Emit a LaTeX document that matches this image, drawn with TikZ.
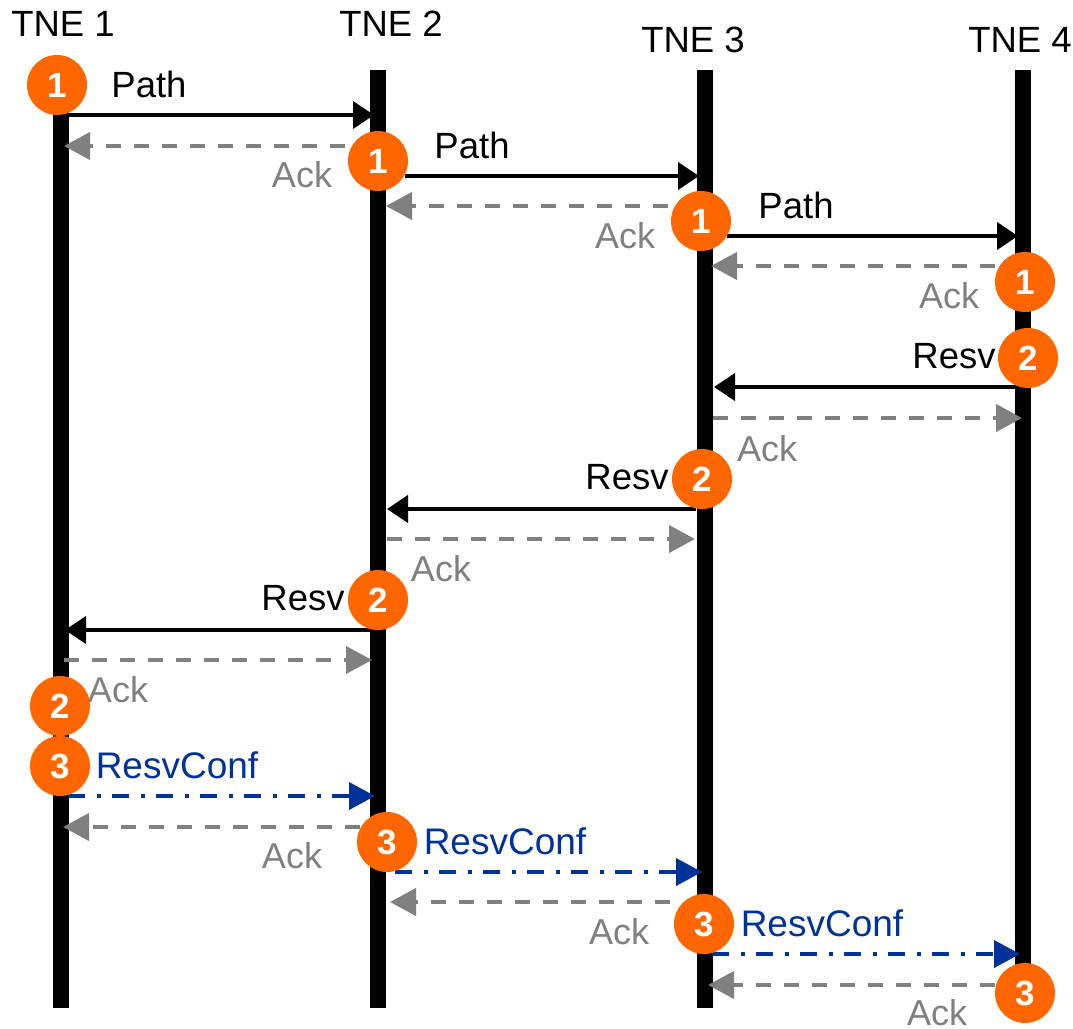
\documentclass[tikz,border=0pt]{standalone}
\usepackage{fontspec}
\setmainfont{Liberation Sans}
\usetikzlibrary{arrows.meta}
\definecolor{stepor}{HTML}{FF6600}
\definecolor{ackgrey}{HTML}{808080}
\definecolor{confblue}{HTML}{003399}
\tikzset{
  lifeline/.style={line width=16pt,black},
  tnelabel/.style={font=\fontsize{36.5}{36.5}\selectfont,text=black,inner sep=0pt},
  msgpath/.style={line width=4pt,black,-{Triangle[length=21pt,width=27pt]}},
  msgack/.style={line width=4pt,ackgrey,dash pattern=on 15pt off 13pt,-{Triangle[length=26pt,width=27pt]}},
  msgconf/.style={line width=4pt,confblue,dash pattern=on 17pt off 12pt on 4pt off 11pt,-{Triangle[length=26pt,width=27pt]}},
  lblblack/.style={font=\fontsize{36.5}{36.5}\selectfont,text=black,inner sep=0pt},
  lblack/.style={font=\fontsize{36}{36}\selectfont,text=ackgrey,inner sep=0pt},
  lblconf/.style={font=\fontsize{37}{37}\selectfont,text=confblue,inner sep=0pt},
  stepdot/.style={circle,fill=stepor,minimum size=60pt,inner sep=0pt,text=white,font=\fontsize{35}{35}\selectfont\bfseries},
}
\newcommand{\msgline}[5]{%
  \coordinate (#2s) at (#3,#5);
  \coordinate (#2e) at (#4,#5);
  \draw[#1] (#2s) -- (#2e);}
\begin{document}
\begin{tikzpicture}[x=1pt,y=-1pt]
\useasboundingbox (0,0) rectangle (1073,1028);
\fill[white] (0,0) rectangle (1073,1028);
% lifelines
\foreach \n/\x in {1/61,2/378,3/705,4/1023}{
  \coordinate (top\n) at (\x,70);
  \coordinate (bot\n) at (\x,1008);
  \draw[lifeline] (top\n) -- (bot\n);
}
% headers
\node[tnelabel] (tne1) at (63,24) {TNE 1};
\node[tnelabel] (tne2) at (391,24) {TNE 2};
\node[tnelabel] (tne3) at (693,40) {TNE 3};
\node[tnelabel] (tne4) at (1020,40) {TNE 4};
% messages
\msgline{msgpath}{pa}{69}{374}{115}
\msgline{msgack}{aa}{345}{64}{146}
\msgline{msgpath}{pb}{405}{699}{176}
\msgline{msgack}{ab}{668}{386}{206}
\msgline{msgpath}{pc}{727}{1018}{236}
\msgline{msgack}{ac}{995}{711}{266}
\msgline{msgpath}{ra}{1023}{714}{387}
\msgline{msgack}{ba}{713}{1022}{418}
\msgline{msgpath}{rb}{696}{387}{509}
\msgline{msgack}{bb}{387}{695}{539}
\msgline{msgpath}{rc}{372}{65}{630}
\msgline{msgack}{bc}{64}{372}{660}
\msgline{msgconf}{ca}{68}{375}{796}
\msgline{msgack}{da}{360}{63}{827}
\msgline{msgconf}{cb}{395}{702}{872}
\msgline{msgack}{db}{670}{390}{902}
\msgline{msgconf}{cc}{712}{1020}{954}
\msgline{msgack}{dc}{995}{708}{985}
% labels
\node[lblblack] (lp1) at (149,84) {Path};
\node[lblblack] (lp2) at (472,145) {Path};
\node[lblblack] (lp3) at (796,205) {Path};
\node[lblblack] (lr1) at (954,356) {Resv};
\node[lblblack] (lr2) at (627,477) {Resv};
\node[lblblack] (lr3) at (303,598) {Resv};
\node[lblack] (k1) at (302,175) {Ack};
\node[lblack] (k2) at (625,236) {Ack};
\node[lblack] (k3) at (949,296) {Ack};
\node[lblack] (k4) at (767,449) {Ack};
\node[lblack] (k5) at (441,569) {Ack};
\node[lblack] (k6) at (118,690) {Ack};
\node[lblack] (k7) at (292,856) {Ack};
\node[lblack] (k8) at (619,932) {Ack};
\node[lblack] (k9) at (937,1013) {Ack};
\node[lblconf] (c1) at (177,765) {ResvConf};
\node[lblconf] (c2) at (505,841) {ResvConf};
\node[lblconf] (c3) at (822,923) {ResvConf};
% step markers
\node[stepdot] (s1a) at (57,85) {1};
\node[stepdot] (s1b) at (378,161) {1};
\node[stepdot] (s1c) at (701,221) {1};
\node[stepdot] (s1d) at (1025,282) {1};
\node[stepdot] (s2a) at (1028,358) {2};
\node[stepdot] (s2b) at (702,479) {2};
\node[stepdot] (s2c) at (378,600) {2};
\node[stepdot] (s2d) at (60,706) {2};
\node[stepdot] (s3a) at (60,766) {3};
\node[stepdot] (s3b) at (387,842) {3};
\node[stepdot] (s3c) at (704,924) {3};
\node[stepdot] (s3d) at (1025,993) {3};
\end{tikzpicture}
\end{document}
